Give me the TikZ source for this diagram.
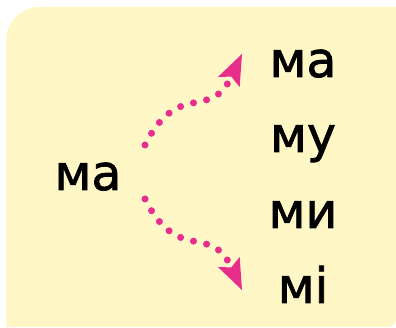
\documentclass[tikz,border=0pt]{standalone}
\usepackage{fontspec}
\setmainfont{DejaVu Sans}
\newfontfamily\syllfont{DejaVu Sans}[FakeBold=1.5]
\usetikzlibrary{arrows.meta}
\definecolor{bgyellow}{RGB}{255,247,197}
\definecolor{arrowpink}{RGB}{232,46,140}
\tikzset{
  syll/.style={anchor=base, inner sep=0pt, font=\syllfont\fontsize{49}{49}\selectfont, text=black},
  dotarrow/.style={draw=arrowpink, line width=7pt, line cap=round,
    dash pattern=on 0pt off 13.4pt,
    -{Stealth[length=31pt, width=24pt, inset=6pt, fill=arrowpink, line width=0pt, sep=0pt]}}
}
\begin{document}
\begin{tikzpicture}[x=1pt, y=-1pt]
\useasboundingbox (0,0) rectangle (396,328);
\fill[bgyellow] (6,327) -- (6,41) .. controls (6,22.2) and (21.2,7) .. (40,7) -- (396,7) -- (396,319) .. controls (396,323.4) and (392.4,327) .. (388,327) -- cycle;
\node[syll] (src) at (88,190) {ма};
\node[syll] (r1) at (303,77) {ма};
\node[syll] (r2) at (303,152) {му};
\node[syll] (r3) at (303,228) {ми};
\node[syll] (r4) at (303,303) {мі};
\coordinate (s1) at (145,145);
\coordinate (t1) at (242,54);
\coordinate (s2) at (145,199);
\coordinate (t2) at (242,290);
\draw[dotarrow] (s1) .. controls (178,79) and (210,122) .. (t1);
\draw[dotarrow] (s2) .. controls (178,265) and (210,222) .. (t2);
\end{tikzpicture}
\end{document}
